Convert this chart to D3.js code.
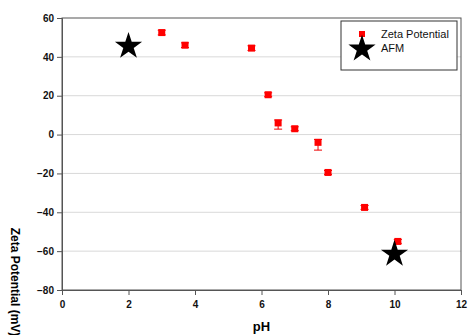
<!DOCTYPE html>
<html><head><meta charset="utf-8">
<script src="https://cdn.jsdelivr.net/npm/d3@7"></script>
<style>body{margin:0;background:#fff}svg{display:block;font-family:"Liberation Sans",Arial,sans-serif}</style>
</head><body><svg id="c" width="474" height="335"></svg>
<script>
const zetaPH = [3.0, 3.7, 5.7, 6.2, 6.5, 7.0, 7.7, 8.0, 9.1, 10.1];
const zetaMV = [52.5, 46, 44.5, 20.5, 6, 3, -4, -19.5, -37.5, -55];
const zetaErrUp = [1.2, 1.2, 1.2, 1, 1.5, 1, 1.5, 1, 1, 1];
const zetaErrDown = [1.2, 1.2, 1.2, 1, 3.2, 1, 4, 1, 1, 1];
const afmPH = [2, 10];
const afmMV = [46, -61];
const xTicks = [0, 2, 4, 6, 8, 10, 12];
const yTicks = [-80, -60, -40, -20, 0, 20, 40, 60];
const legendLabels = ["Zeta Potential", "AFM"];

const svg = d3.select("#c");
const L = 62, R = 461, T = 18, B = 290;
const x = d3.scaleLinear().domain([0, 12]).range([L, R]);
const y = d3.scaleLinear().domain([-80, 60]).range([B, T]);

svg.append("g").selectAll("line").data(yTicks.filter(d => d > -80 && d < 60)).join("line")
  .attr("x1", L).attr("x2", R).attr("y1", d => y(d)).attr("y2", d => y(d))
  .attr("stroke", "#d9d9d9").attr("stroke-width", 1);

svg.append("rect").attr("x", L).attr("y", T).attr("width", R - L).attr("height", B - T)
  .attr("fill", "none").attr("stroke", "#555").attr("stroke-width", 1);

const xa = svg.append("g").attr("transform", `translate(0,${B})`)
  .call(d3.axisBottom(x).tickValues(xTicks).tickSize(5).tickPadding(6).tickFormat(d3.format("d")));
const ya = svg.append("g").attr("transform", `translate(${L},0)`)
  .call(d3.axisLeft(y).tickValues(yTicks).tickSize(5).tickPadding(3).tickFormat(d3.format("d")));
[xa, ya].forEach(a => {
  a.select(".domain").attr("stroke", "#555");
  a.selectAll(".tick line").attr("stroke", "#555");
  a.selectAll("text").attr("font-size", 10).attr("font-weight", "bold").attr("fill", "#111")
    .attr("font-family", '"Liberation Sans",Arial,sans-serif');
});

svg.append("text").attr("x", (L + R) / 2).attr("y", 331).attr("text-anchor", "middle")
  .attr("font-size", 13).attr("font-weight", "bold").text("pH");
svg.append("text").attr("transform", "translate(11,282) rotate(90)").attr("text-anchor", "middle")
  .attr("font-size", 12).attr("font-weight", "bold").text("Zeta Potential (mV)");

const eb = svg.append("g").attr("stroke", "#e00").attr("stroke-width", 1);
zetaPH.forEach((p, i) => {
  const cx = x(p), y1 = y(zetaMV[i] + zetaErrUp[i]), y2 = y(zetaMV[i] - zetaErrDown[i]);
  eb.append("line").attr("x1", cx).attr("x2", cx).attr("y1", y1).attr("y2", y2);
  eb.append("line").attr("x1", cx - 4).attr("x2", cx + 4).attr("y1", y1).attr("y2", y1);
  eb.append("line").attr("x1", cx - 4).attr("x2", cx + 4).attr("y1", y2).attr("y2", y2);
});
svg.append("g").selectAll("rect").data(zetaPH).join("rect")
  .attr("x", d => x(d) - 3.5).attr("y", (d, i) => y(zetaMV[i]) - 3.5)
  .attr("width", 7).attr("height", 7).attr("fill", "#f00");

const star = d3.symbol().type(d3.symbolStar).size(230);
svg.append("g").selectAll("path").data(afmPH).join("path")
  .attr("d", star).attr("fill", "#000")
  .attr("transform", (d, i) => `translate(${x(d)},${y(afmMV[i]) + 1})`);

const lg = svg.append("g");
lg.append("rect").attr("x", 341).attr("y", 21).attr("width", 116).attr("height", 49)
  .attr("fill", "#fff").attr("stroke", "#333").attr("stroke-width", 1);
lg.append("rect").attr("x", 359).attr("y", 31).attr("width", 6).attr("height", 6).attr("fill", "#f00");
lg.append("path").attr("d", star).attr("fill", "#000").attr("transform", "translate(362,49)");
lg.selectAll("text").data(legendLabels).join("text")
  .attr("x", 381).attr("y", (d, i) => 38 + i * 14).attr("font-size", 11).attr("fill", "#111").text(d => d);
</script></body></html>
